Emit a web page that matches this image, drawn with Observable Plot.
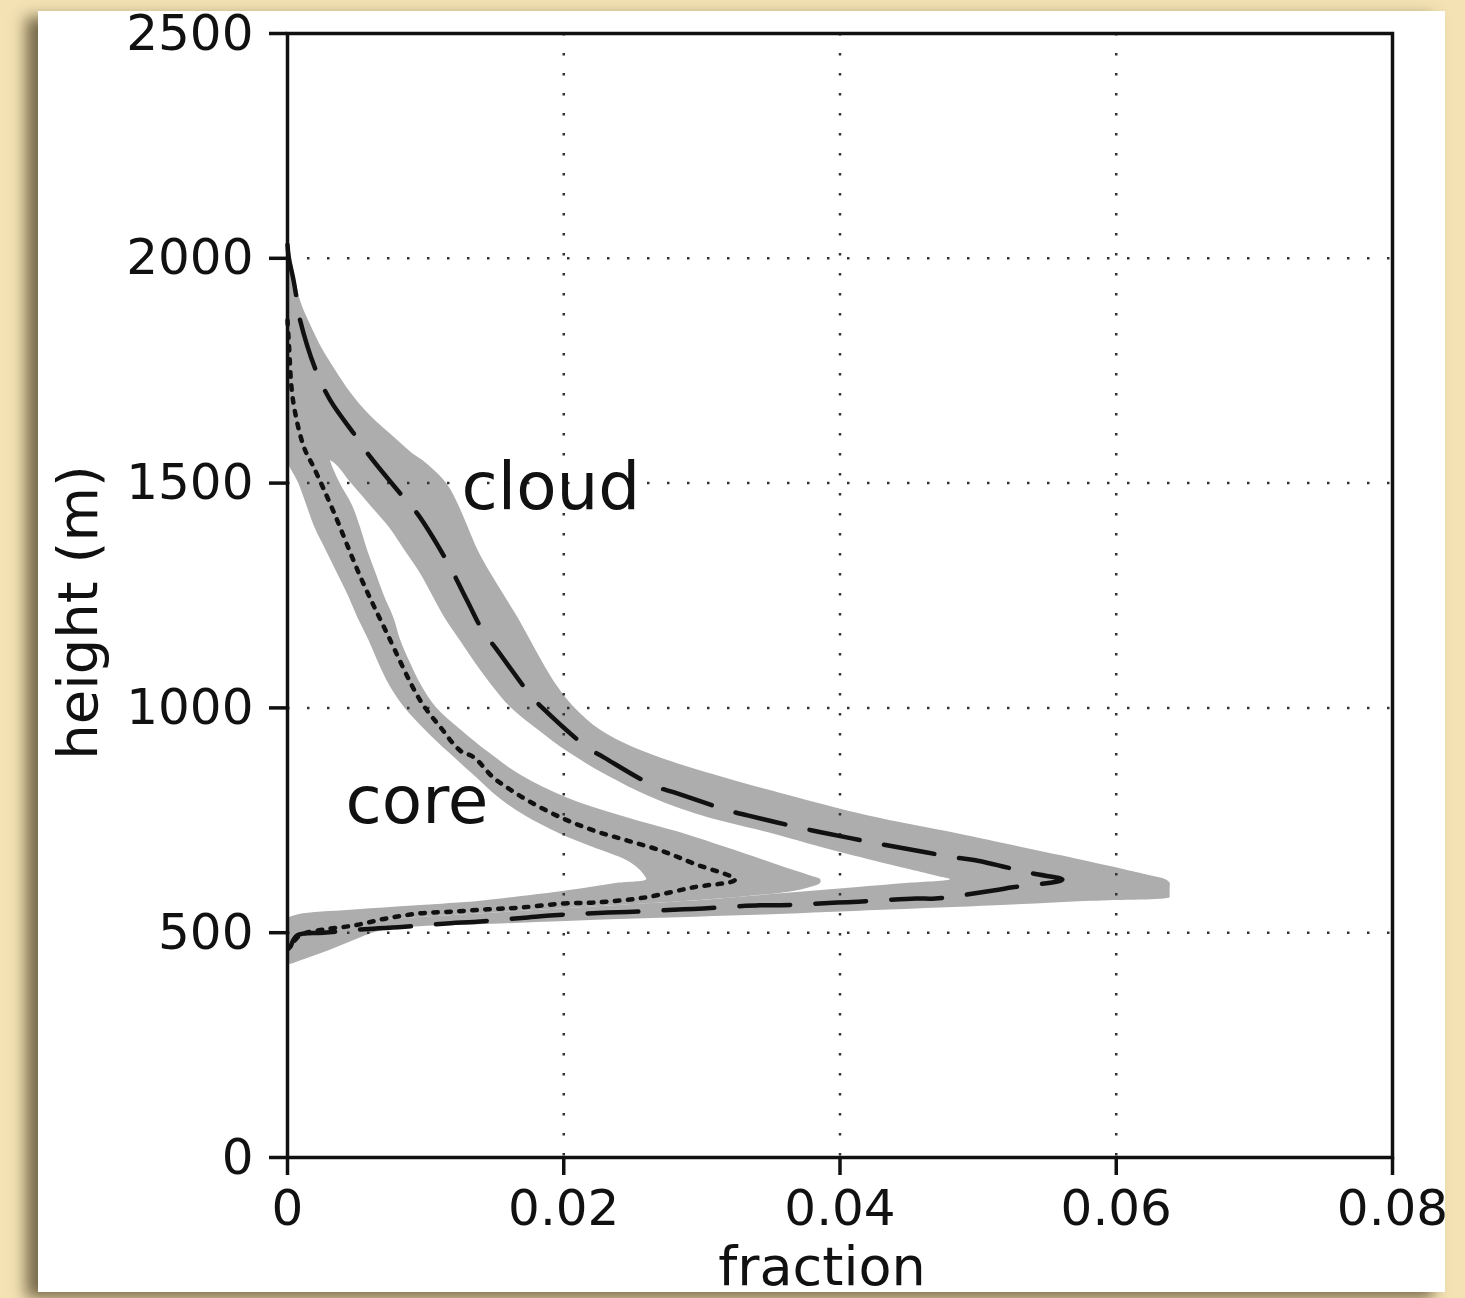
<!DOCTYPE html>
<html><head><meta charset="utf-8">
<script src="https://cdn.jsdelivr.net/npm/d3@7"></script>
<script src="https://cdn.jsdelivr.net/npm/@observablehq/plot@0.6"></script>
<style>
html,body{margin:0;padding:0;}
body{width:1465px;height:1298px;background:#f4e2b4;position:relative;overflow:hidden;}
#panel{position:absolute;left:38px;top:11px;width:1407px;height:1281px;background:#fff;box-shadow:-12px 6px 14px rgba(95,85,55,0.85);}
</style></head><body><div id="panel"></div>
<script>
// ---- data ----
const xTicks = [0, 0.02, 0.04, 0.06, 0.08];
const yTicks = [0, 500, 1000, 1500, 2000, 2500];
const xGrid = [0.02, 0.04, 0.06];
const yGrid = [500, 1000, 1500, 2000];

// cloud ensemble spread (grey band): height, lower and upper fraction
const cloudBandH  = [2060,2000,1950,1900,1850,1800,1750,1700,1650,1600,1560,1550,1500,1450,1400,1350,1300,1250,1200,1150,1100,1050,1000,950,900,850,800,760,720,690,660,640,625,618,610,600,590,580,578,570,560,550,540,530,520,510,500,490,480,470,460,450,440,430];
const cloudBandLo = [0,0,0,0,0,0,0,0,0,0,0,0.0031,0.0046,0.006,0.0074,0.0085,0.0096,0.0105,0.0114,0.0125,0.0136,0.0148,0.0162,0.0182,0.0204,0.0231,0.0264,0.030,0.0351,0.0386,0.0424,0.0451,0.0471,0.048,0.045,0.0411,0.0371,0.0332,0.0324,0.029,0.0236,0.0182,0.0128,0.0072,0,0,0,0,0,0,0,0,0,0];
const cloudBandHi = [0,0.0003,0.0006,0.001,0.0017,0.0025,0.0035,0.0046,0.006,0.0078,0.0093,0.0098,0.0115,0.0124,0.0131,0.0138,0.0147,0.0157,0.0167,0.0176,0.0185,0.0195,0.0208,0.0227,0.026,0.031,0.0369,0.042,0.0485,0.0531,0.0577,0.0606,0.0627,0.0636,0.0639,0.0639,0.0639,0.0639,0.0639,0.0582,0.0513,0.0431,0.035,0.0246,0.0159,0.0081,0.0063,0.0054,0.0046,0.0038,0.003,0.0021,0.0012,0.0003];

// core ensemble spread (grey band)
const coreBandH  = [1600,1550,1500,1450,1400,1350,1300,1250,1200,1150,1100,1050,1000,950,900,850,800,760,720,690,660,640,625,618,610,600,590,580,570,560,550,540,530,520];
const coreBandLo = [0,0,0.0008,0.0014,0.002,0.0028,0.0036,0.0044,0.0051,0.0059,0.0066,0.0074,0.0085,0.01,0.0117,0.0135,0.0153,0.0172,0.0197,0.0221,0.0246,0.0255,0.0259,0.026,0.0239,0.0218,0.0195,0.0168,0.014,0.0094,0.0046,0.0008,0,0];
const coreBandHi = [0.0028,0.0031,0.0038,0.0047,0.0053,0.0058,0.0064,0.007,0.0077,0.0082,0.0089,0.0097,0.0108,0.0126,0.0146,0.0169,0.0202,0.0241,0.0287,0.0317,0.0346,0.0365,0.038,0.0386,0.0386,0.0378,0.0363,0.0332,0.029,0.0236,0.0182,0.0128,0.0072,0.0007];

// cloud mean profile (long dashes)
const cloudMeanH = [2030,2000,1957,1922,1877,1755,1684,1606,1566,1468,1432,1323,1239,1168,1132,1028,999,912,890,827,812,772,761,732,723,698,690,667,661,632,618,601,594,576,576,569,567,561,561,554,552,546,545,538,534,524,521,512,509,500,494,467];
const cloudMeanX = [0,0.0001,0.0004,0.0006,0.0008,0.002,0.0031,0.0049,0.0058,0.0084,0.0094,0.0116,0.013,0.0142,0.0151,0.0176,0.0185,0.0217,0.0229,0.0265,0.028,0.0319,0.0333,0.0373,0.0387,0.0428,0.0442,0.0484,0.0498,0.0539,0.0561,0.0525,0.0511,0.0469,0.0455,0.0413,0.0398,0.0357,0.0342,0.0301,0.0287,0.0246,0.0232,0.019,0.0174,0.0135,0.0118,0.008,0.0062,0.0026,0.0007,0.0002];

// core mean profile (short dashes)
const coreMeanH = [1862,1810,1684,1579,1535,1439,1290,1166,1017,956,905,890,845,823,794,756,727,705,683,654,618,601,578,567,565,556,552,547,543,532,516,507,494,465];
const coreMeanX = [0,0.0001,0.0004,0.0012,0.0019,0.0033,0.0053,0.0072,0.0096,0.0111,0.0125,0.0135,0.0149,0.0159,0.0174,0.0198,0.0222,0.0246,0.027,0.0294,0.0324,0.0294,0.0258,0.0222,0.02,0.0169,0.0145,0.012,0.0096,0.0072,0.0048,0.0026,0.0009,0.0001];

const labelText = ["cloud", "core"];
const labelX = [0.0126, 0.0042];
const labelH = [1489, 791];

// ---- tables ----
const cloudBand = cloudBandH.map((h, i) => ({h, lo: cloudBandLo[i], hi: cloudBandHi[i]}));
const coreBand = coreBandH.map((h, i) => ({h, lo: coreBandLo[i], hi: coreBandHi[i]}));
const cloudMean = cloudMeanH.map((h, i) => ({h, x: cloudMeanX[i]}));
const coreMean = coreMeanH.map((h, i) => ({h, x: coreMeanX[i]}));
const labels = labelText.map((t, i) => ({t, x: labelX[i], h: labelH[i]}));

const band = "#adadad";
const ink = "#111";

const chart = Plot.plot({
  width: 1407, height: 1281,
  marginLeft: 249, marginRight: 53, marginTop: 22, marginBottom: 135,
  style: {fontFamily: "'DejaVu Sans', sans-serif", fontSize: "50px", background: "transparent", overflow: "visible", color: ink},
  x: {domain: [0, 0.08]},
  y: {domain: [0, 2500]},
  marks: [
    Plot.areaX(cloudBand, {y: "h", x1: "lo", x2: "hi", fill: band, curve: "catmull-rom", clip: true}),
    Plot.areaX(coreBand, {y: "h", x1: "lo", x2: "hi", fill: band, curve: "catmull-rom", clip: true}),
    Plot.ruleY(yGrid, {stroke: "#333", strokeWidth: 2.5, strokeDasharray: "2.5,17.5"}),
    Plot.ruleX(xGrid, {stroke: "#333", strokeWidth: 2.5, strokeDasharray: "2.5,17.5"}),
    Plot.line(cloudMean, {x: "x", y: "h", stroke: ink, strokeWidth: 4.5, strokeDasharray: "51,25", curve: "catmull-rom"}),
    Plot.line(coreMean, {x: "x", y: "h", stroke: ink, strokeWidth: 4.5, strokeDasharray: "4.5,8.5", curve: "catmull-rom"}),
    Plot.frame({stroke: ink, strokeWidth: 3.5}),
    Plot.axisX({ticks: xTicks, tickFormat: d => d === 0 ? "0" : d.toFixed(2), tickSize: 18, tickPadding: 14, strokeWidth: 3.5, label: null, fill: ink}),
    Plot.axisY({ticks: yTicks, tickFormat: d => String(d), tickSize: 18, tickPadding: 16, strokeWidth: 3.5, label: null, fill: ink}),
    Plot.text(labels, {x: "x", y: "h", text: "t", textAnchor: "start", fontSize: 66, fill: ink}),
    Plot.text(["fraction"], {frameAnchor: "bottom", textAnchor: "middle", lineAnchor: "bottom", dx: -18, dy: 127, fontSize: 54, fill: ink}),
    Plot.text(["height (m)"], {frameAnchor: "left", textAnchor: "middle", lineAnchor: "middle", rotate: -90, dx: -208, dy: 17, fontSize: 56, fill: ink})
  ]
});
document.getElementById("panel").appendChild(chart);
</script></body></html>
